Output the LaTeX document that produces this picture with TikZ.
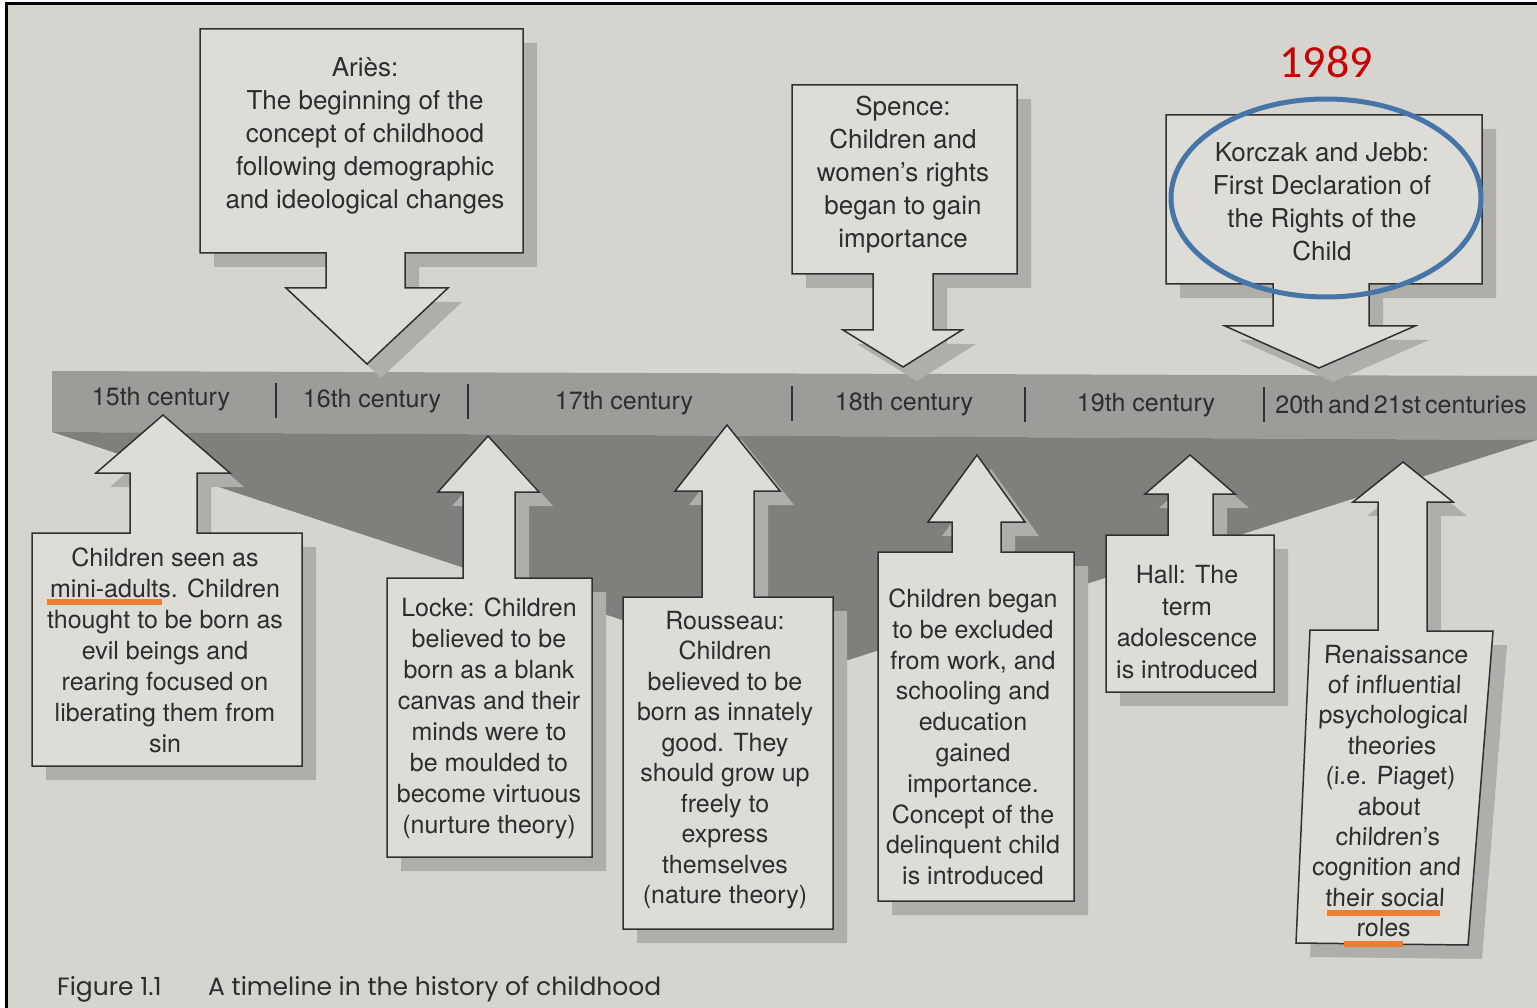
\documentclass[tikz,border=0pt]{standalone}
\usepackage{fontspec}
\setmainfont{TeX Gyre Heros}
\newfontfamily\capfont{Poppins}
\newfontfamily\yearfont{Carlito}
\definecolor{paper}{RGB}{214,212,207}
\definecolor{boxc}{RGB}{222,220,215}
\definecolor{shadc}{RGB}{176,174,170}
\definecolor{bandc}{RGB}{158,156,153}
\definecolor{wedgec}{RGB}{128,127,124}
\definecolor{linec}{RGB}{48,48,48}
\definecolor{textc}{RGB}{45,45,45}
\definecolor{orangec}{RGB}{237,125,49}
\definecolor{bluec}{RGB}{70,117,168}
\definecolor{redc}{RGB}{200,0,0}
\begin{document}
\begin{tikzpicture}[x=1pt,y=-1pt,
  box/.style={fill=boxc, draw=linec, line width=1.5pt, line join=miter},
  shadowbox/.style={fill=shadc, shift={(14,14)}},
  txt/.style={text=textc, align=center, inner sep=0pt, font=\fontsize{25}{31}\selectfont},
  toptxt/.style={text=textc, align=center, inner sep=0pt, font=\fontsize{26}{33}\selectfont},
  bandlbl/.style={text=textc, inner sep=0pt, font=\fontsize{25}{30}\selectfont},
  sepline/.style={draw=linec, line width=1.8pt},
  hilite/.style={draw=orangec, line width=6pt}]
\useasboundingbox (0,0) rectangle (1537,1008);
% page
\fill[white] (0,0) rectangle (1537,1008);
\fill[paper] (7,5) rectangle (1537,1008);
\draw[black, line width=3pt] (6,1008) -- (6,4) -- (1537,4);
% band and wedge
\fill[bandc] (52,371) -- (1537,376) -- (1537,440) -- (52,432) -- cycle;
\fill[wedgec] (52,432) -- (1537,440) -- (795,677) -- cycle;
% shapes
\def\pAries{(200,29) -- (523,29) -- (523,253) -- (405,253) -- (405,288) -- (448,288) -- (367,364) -- (286,288) -- (326,288) -- (326,253) -- (200,253) -- cycle}
\def\pSpence{(792,85) -- (1017,85) -- (1017,274) -- (933,274) -- (933,330) -- (962,330) -- (903,367) -- (843,330) -- (873,330) -- (873,274) -- (792,274) -- cycle}
\def\pKorczak{(1166,115) -- (1482,115) -- (1482,284) -- (1369,284) -- (1369,326) -- (1415,326) -- (1319,368) -- (1225,326) -- (1273,326) -- (1273,284) -- (1166,284) -- cycle}
\def\pSeen{(32,533) -- (130,533) -- (130,473) -- (96,473) -- (163,415) -- (230,473) -- (197,473) -- (197,533) -- (302,533) -- (302,766) -- (32,766) -- cycle}
\def\pLocke{(387,578) -- (463,578) -- (463,492) -- (438,492) -- (488,436) -- (539,492) -- (515,492) -- (515,578) -- (592,578) -- (592,857) -- (387,857) -- cycle}
\def\pRousseau{(623,597) -- (702,597) -- (702,491) -- (675,491) -- (727,425) -- (780,491) -- (754,491) -- (754,597) -- (833,597) -- (833,929) -- (623,929) -- cycle}
\def\pBegan{(878,552) -- (952,552) -- (952,522) -- (928,522) -- (977,455) -- (1025,522) -- (1001,522) -- (1001,552) -- (1074,552) -- (1074,901) -- (878,901) -- cycle}
\def\pHall{(1106,535) -- (1168,535) -- (1168,494) -- (1145,494) -- (1190,455) -- (1235,494) -- (1213,494) -- (1213,535) -- (1274,535) -- (1274,692) -- (1106,692) -- cycle}
\def\pRen{(1310,630) -- (1378,630) -- (1378,502) -- (1353,502) -- (1403,462) -- (1453,502) -- (1427,502) -- (1427,631) -- (1493,631) -- (1468,945) -- (1296,943) -- cycle}
\foreach \p in {\pAries,\pSpence,\pKorczak,\pSeen,\pLocke,\pRousseau,\pBegan,\pHall,\pRen}{
  \fill[shadowbox] \p;
}
\foreach \p in {\pAries,\pSpence,\pKorczak,\pSeen,\pLocke,\pRousseau,\pBegan,\pHall,\pRen}{
  \draw[box] \p;
}
% separators
\draw[sepline] (276,383) -- (276,418);
\draw[sepline] (468,384) -- (468,419);
\draw[sepline] (792,386) -- (792,421);
\draw[sepline] (1025,387) -- (1025,422);
\draw[sepline] (1264,387) -- (1264,422);
% band labels
\node[bandlbl] (c15) at (161,399) {15th century};
\node[bandlbl] (c16) at (372,401) {16th century};
\node[bandlbl] (c17) at (624,403) {17th century};
\node[bandlbl] (c18) at (904,404) {18th century};
\node[bandlbl] (c19) at (1146,405) {19th century};
\node[bandlbl] (c20) at (1401,405) {20th\,and\,21st\,centuries};
% box texts
\node[toptxt] (aries) at (365,136) {Ariès:\\The beginning of the\\concept of childhood\\following demographic\\and ideological changes};
\node[toptxt] (spence) at (903,175) {Spence:\\Children and\\women’s rights\\began to gain\\importance};
\node[toptxt] (korczak) at (1322,202) {Korczak and Jebb:\\First Declaration of\\the Rights of the\\Child};
\node[txt] (seen) at (165,650) {Children seen as\\mini-adults. Children\\thought to be born as\\evil beings and\\rearing focused on\\liberating them from\\sin};
\node[txt] (locke) at (489,718) {Locke: Children\\believed to be\\born as a blank\\canvas and their\\minds were to\\be moulded to\\become virtuous\\(nurture theory)};
\node[txt, font=\fontsize{25}{30.5}\selectfont] (rousseau) at (725,760) {Rousseau:\\Children\\believed to be\\born as innately\\good. They\\should grow up\\freely to\\express\\themselves\\(nature theory)};
\node[txt, font=\fontsize{25}{30.8}\selectfont] (began) at (973,737) {Children began\\to be excluded\\from work, and\\schooling and\\education\\gained\\importance.\\Concept of the\\delinquent child\\is introduced};
\node[txt, font=\fontsize{25}{31.7}\selectfont] (hall) at (1187,622) {Hall: The\\term\\adolescence\\is introduced};
\node[txt, font=\fontsize{25}{30.4}\selectfont, xslant=0.045, transform shape] (ren) at (1390,791) {Renaissance\\of influential\\psychological\\theories\\(i.e. Piaget)\\about\\children’s\\cognition and\\their social\\roles};
% annotations
\draw[hilite] (47,602) -- (162,602);
\draw[hilite] (1327,913) -- (1440,913);
\draw[hilite] (1344,944) -- (1403,944);
\draw[bluec, line width=5pt] (1326,198) ellipse [x radius=155, y radius=99];
\node[text=redc, inner sep=0pt, font=\yearfont\fontsize{46}{50}\selectfont] (year) at (1326,62) {1989};
% caption
\node[anchor=west, text=textc, inner sep=0pt, font=\capfont\fontsize{25}{29}\selectfont] (figno) at (57,989) {Figure 1.1};
\node[anchor=west, text=textc, inner sep=0pt, font=\capfont\fontsize{25}{29}\selectfont] (caption) at (208,989) {A timeline in the history of childhood};
\end{tikzpicture}
\end{document}
